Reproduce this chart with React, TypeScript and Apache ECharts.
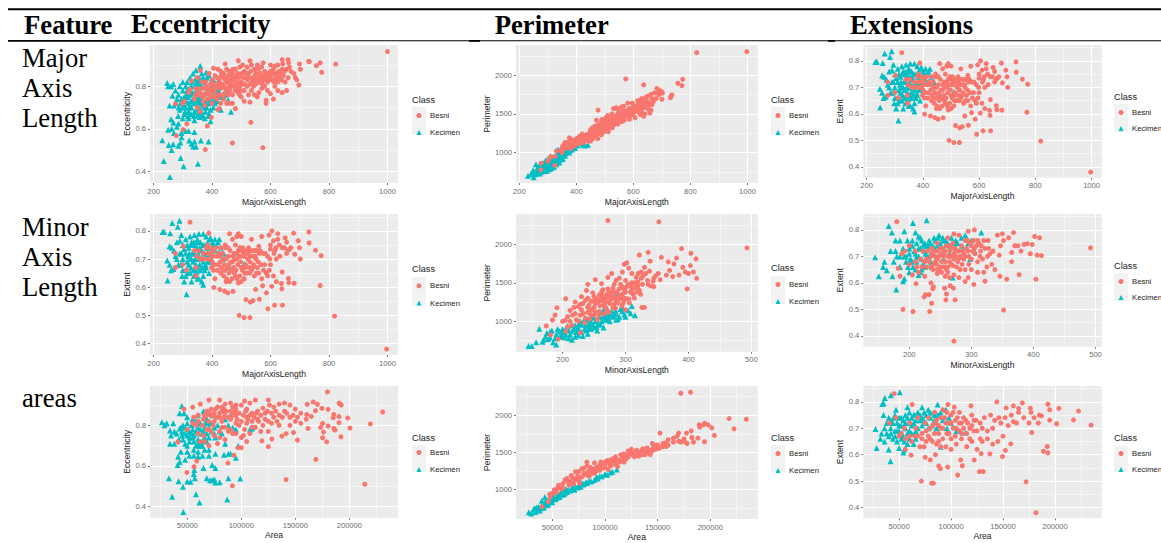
import React, { useEffect, useRef } from "react";
import * as echarts from "echarts";

// ---- tick values ----
const majorTicks = [200, 400, 600, 800, 1000];
const majorMinors = [300, 500, 700, 900];
const minorTicks = [200, 300, 400, 500];
const minorMinors = [150, 250, 350, 450];
const areaTicks = [50000, 100000, 150000, 200000];
const areaMinors = [25000, 75000, 125000, 175000, 225000];
const eccTicks = [0.4, 0.6, 0.8];
const eccMinors = [0.5, 0.7, 0.9];
const perimTicks = [1000, 1500, 2000];
const perimMinors = [750, 1250, 1750, 2250];
const extentTicks = [0.4, 0.5, 0.6, 0.7, 0.8];
const extentMinors = [0.45, 0.55, 0.65, 0.75, 0.85];
const classes = ["Besni", "Kecimen"];

// ---- MajorAxisLength / Eccentricity ----
const majorEccBesni = [[1000,.963],[823,.904],[775,.866],[770,.91],[757,.897],[733,.916],[730,.917],[697,.806],[702,.88],[699,.905],[574,.511],[533,.63],[470,.533],[377,.502],[398,.654],[384,.613],[314,.623],[301,.596],[278,.568],[275,.717],[640,.925],[642,.905],[660,.925],[662,.91],[665,.89],[655,.88],[640,.88],[670,.87],[680,.86],[685,.84],[690,.83],[660,.84],[650,.82],[655,.78],[640,.77],[625,.78],[610,.74],[585,.72],[585,.735],[590,.78],[600,.765],[615,.8],[625,.82],[630,.84],[620,.86],[610,.88],[600,.87],[595,.85],[580,.87],[570,.89],[565,.86],[560,.84],[575,.83],[590,.82],[605,.83],[580,.8],[570,.79],[560,.77],[550,.81],[545,.83],[550,.86],[545,.88],[535,.9],[530,.92],[520,.89],[510,.87],[515,.84],[505,.81],[520,.8],[535,.78],[545,.76],[530,.725],[510,.73],[500,.75],[490,.77],[490,.92],[495,.89],[480,.88],[470,.86],[475,.84],[485,.82],[495,.8],[480,.78],[470,.76],[480,.695],[460,.72],[470,.72],[445,.905],[450,.88],[440,.86],[455,.85],[465,.83],[450,.82],[440,.84],[430,.87],[420,.88],[405,.885],[410,.85],[425,.83],[435,.81],[455,.79],[445,.77],[430,.79],[415,.81],[400,.83],[390,.86],[395,.81],[380,.8],[365,.82],[350,.84],[330,.825],[360,.875],[325,.785],[345,.79],[360,.77],[375,.76],[390,.77],[410,.77],[420,.75],[440,.74],[450,.72],[430,.72],[425,.695],[420,.69],[400,.72],[385,.74],[370,.73],[350,.7],[360,.68],[375,.71],[340,.74],[320,.77],[305,.73],[300,.72],[500,.845],[525,.86],[540,.84],[530,.81],[465,.8],[505,.9],[555,.9],[575,.91],[600,.9],[615,.895],[625,.9],[470,.81],[480,.85],[490,.84],[500,.82],[460,.87],[510,.78],[525,.76],[555,.75],
[452,.84],[458,.81],[462,.78],[468,.85],[472,.88],[478,.83],[482,.8],[488,.86],[492,.81],[498,.78],[502,.86],[508,.84],[512,.81],[518,.86],[522,.83],[528,.84],[532,.87],[538,.82],[542,.8],[548,.85],[552,.83],[558,.88],[562,.82],[568,.84],[572,.81],[578,.85],[582,.83],[588,.86],[592,.84],[598,.83],[602,.85],[608,.86],[612,.82],[618,.84],[622,.85],[628,.87],[634,.86],[638,.83],[644,.85],[648,.87],[440,.8],[445,.83],[432,.85],[428,.81],[422,.8],[418,.84],[412,.79],[406,.81],[402,.78],[396,.79],[392,.76],[386,.79],[382,.77],[378,.82],[372,.79],[368,.75],[362,.79],[356,.76],[352,.77],[344,.76],[446,.79],[438,.76],[426,.76],[416,.74],[408,.75],[398,.75],[456,.76],[462,.82],[474,.8],[486,.79],[494,.76]];
const majorEccKecimen = [[256,.373],[352,.436],[303,.424],[235,.449],[293,.463],[262,.5],[230,.546],[252,.524],[267,.527],[285,.52],[292,.535],[322,.545],[330,.53],[336,.517],[345,.515],[340,.54],[362,.545],[388,.54],[296,.56],[270,.58],[295,.58],[262,.6],[280,.61],[250,.595],[310,.59],[320,.59],[340,.585],[285,.625],[268,.63],[260,.645],[300,.65],[320,.65],[340,.64],[358,.655],[375,.65],[395,.635],[305,.67],[290,.69],[255,.71],[270,.71],[280,.74],[265,.755],[250,.8],[260,.8],[275,.78],[285,.76],[290,.8],[268,.81],[247,.815],[300,.82],[310,.8],[325,.84],[335,.86],[360,.895],[345,.875],[365,.86],[380,.865],[355,.84],[370,.84],[390,.85],[405,.83],[315,.78],[325,.76],[335,.74],[345,.72],[355,.7],[365,.68],[375,.7],[395,.69],[410,.72],[305,.75],[300,.72],[310,.7],[320,.72],[330,.7],[340,.68],[350,.665],[300,.78],[295,.74],[340,.77],[350,.79],[360,.81],[375,.8],[385,.78],[400,.79],[415,.77],[430,.75],[430,.69],[445,.76],[455,.735],[410,.8],[420,.82],[395,.82],[370,.76],[385,.74],[360,.75],[345,.81],[330,.8],[315,.82],[405,.7],[450,.78],[380,.72],[320,.68],[390,.67],[360,.72],[465,.68],
[305,.71],[312,.73],[318,.75],[322,.7],[328,.73],[332,.77],[338,.72],[342,.75],[348,.74],[352,.73],[358,.76],[362,.74],[368,.71],[372,.73],[378,.77],[382,.7],[388,.72],[392,.75],[398,.73],[402,.76],[408,.74],[412,.75],[418,.73],[422,.78],[312,.76],[322,.79],[332,.82],[342,.83],[352,.82],[362,.83],[372,.82],[382,.84],[392,.79],[402,.81],[318,.66],[328,.67],[338,.66],[348,.69],[358,.67],[368,.66],[378,.68],[388,.66],[298,.7],[308,.68],[278,.72],[286,.7],[292,.72],[284,.66]];

// ---- MajorAxisLength / Perimeter ----
const majorPerimBesni = [[998,2306],[822,2293],[573,1953],[636,1875],[773,1948],[770,1866],[756,1897],[732,1730],[730,1710],[735,1745],[700,1690],[702,1770],[698,1790],[690,1810],[682,1830],[672,1770],[660,1750],[650,1730],[645,1720],[678,1770],[690,1750],[670,1660],[662,1550],[650,1600],[640,1630],[655,1640],[665,1620],[630,1700],[625,1680],[615,1670],[620,1620],[610,1600],[640,1500],[630,1520],[612,1560],[600,1600],[595,1540],[585,1570],[580,1640],[560,1530],[575,1500],[560,1470],[540,1580],[530,1570],[525,1500],[545,1500],[510,1480],[515,1420],[530,1450],[540,1420],[490,1430],[476,1550],[470,1420],[495,1370],[505,1400],[480,1350],[490,1300],[470,1310],[460,1280],[450,1300],[440,1200],[430,1180],[420,1240],[410,1210],[400,1180],[395,1090],[385,1130],[375,1190],[370,1130],[360,1130],[350,1060],[345,1030],[330,1020],[325,950],[324,836],[276,862],[275,776],[303,905],[310,950],[300,890],[350,1000],[365,1060],[380,1050],[405,1120],[415,1150],[425,1130],[440,1170],[450,1190],[465,1220],[475,1260],[485,1260],[500,1300],[510,1350],[520,1370],[535,1400],[550,1440],[565,1450],[580,1500],[590,1480],[600,1520],[615,1530],[625,1560],[560,1400],[515,1320],[445,1240],[455,1240],[435,1230],[425,1190],[395,1130],[412,1170],[430,1220],[470,1260],[482,1300],[500,1340],[520,1420],[550,1500],[570,1540],[600,1560],[620,1650],[680,1700],[665,1700],[450,1150],[475,1180],
[432,1160],[438,1215],[442,1150],[448,1270],[452,1220],[458,1180],[462,1250],[468,1290],[472,1230],[478,1300],[484,1330],[488,1230],[492,1350],[498,1270],[502,1320],[508,1300],[512,1390],[518,1340],[522,1440],[528,1410],[532,1360],[538,1470],[544,1390],[548,1460],[552,1530],[556,1480],[564,1510],[568,1420],[572,1470],[578,1540],[584,1470],[588,1520],[592,1560],[598,1490],[604,1570],[608,1540],[614,1610],[618,1580],[622,1530],[628,1600],[634,1640],[638,1580],[642,1670],[648,1650],[352,1090],[358,1050],[366,1110],[372,1080],[378,1110],[382,1170],[388,1080],[392,1160],[398,1110],[402,1150],[408,1190],[414,1120],[418,1200],[422,1160],[428,1150],[435,1190],
[512,1270],[496,1420],[526,1320],[476,1360],[558,1590],[566,1600],[546,1370],[606,1450],[596,1640],[586,1430],[624,1490],[636,1470],[652,1560],[650,1660],[658,1510],[486,1390],[464,1340],[456,1320],[544,1560],[504,1450]];
const majorPerimKecimen = [[230,700],[240,720],[250,680],[248,770],[260,730],[258,850],[270,760],[275,790],[285,800],[290,830],[300,850],[295,760],[310,800],[305,920],[320,900],[330,850],[340,870],[335,1000],[350,1040],[345,950],[360,960],[375,1000],[365,1100],[385,1040],[395,1060],[405,1190],[420,1100],[430,1090],[440,1100],[245,740],[265,770],[280,830],[290,870],[300,800],[315,860],[325,920],[340,980],[355,1000],[370,1040],[380,1100],[390,1150],[400,1120],[410,1160],[355,1060],[265,800],[280,770],[295,810],[315,830],[330,890],[345,910],[360,1020],[375,1060],[290,770],[305,830],[320,870],
[254,720],[262,790],[268,820],[272,730],[278,750],[283,860],[287,780],[292,900],[297,840],[302,780],[307,870],[312,900],[317,810],[322,950],[327,860],[332,960],[337,900],[342,1020],[347,990],[352,920],[357,1080],[362,990],[367,1020],[372,1120],[377,1030],[382,1140],[387,1070],[392,1100],[397,1170],[402,1090],[407,1130],[412,1200],[417,1140],[425,1130],[360,1100],[338,930],[322,820],[308,790],[300,920],[285,850],[272,840],[335,1040]];

// ---- MajorAxisLength / Extent ----
const majorExtentBesni = [[997,.38],[819,.497],[770,.606],[773,.712],[754,.731],[731,.796],[732,.757],[699,.74],[702,.7],[695,.765],[679,.792],[683,.717],[681,.614],[663,.616],[661,.631],[639,.594],[640,.654],[637,.613],[641,.536],[614,.536],[591,.523],[586,.58],[604,.603],[573,.605],[549,.592],[562,.557],[540,.552],[531,.547],[516,.556],[530,.492],[510,.492],[493,.5],[472,.585],[454,.58],[443,.586],[427,.592],[406,.599],[325,.831],[389,.792],[275,.67],[275,.72],[300,.68],[302,.745],[312,.66],[345,.67],[345,.64],[340,.73],[360,.7],[370,.72],[380,.74],[385,.75],[395,.72],[400,.69],[405,.66],[410,.63],[420,.68],[425,.71],[430,.74],[440,.7],[445,.66],[450,.63],[460,.62],[465,.66],[470,.69],[475,.72],[480,.75],[485,.78],[490,.79],[460,.79],[470,.77],[500,.78],[505,.74],[510,.71],[515,.68],[500,.67],[495,.64],[510,.63],[490,.615],[480,.64],[525,.72],[530,.69],[535,.66],[520,.65],[545,.73],[550,.7],[555,.67],[545,.64],[535,.77],[560,.745],[570,.78],[575,.72],[580,.68],[585,.65],[590,.71],[595,.785],[600,.735],[605,.8],[610,.765],[615,.73],[620,.7],[625,.79],[630,.75],[640,.74],[650,.775],[655,.72],[665,.735],[670,.74],[610,.64],[620,.62],[600,.68],[590,.64],[570,.63],[560,.65],[430,.65],[440,.64],[415,.71],[405,.73],[455,.74],[445,.75],[515,.73],[525,.74],[485,.7],[490,.73],[500,.71],[540,.71],[565,.73],[625,.77],[600,.75],[655,.76],[660,.73],
[412,.74],[418,.66],[422,.72],[428,.69],[432,.67],[436,.72],[442,.68],[446,.74],[448,.7],[452,.67],[456,.71],[458,.65],[462,.73],[464,.69],[468,.63],[472,.71],[474,.67],[478,.7],[482,.66],[484,.72],[488,.68],[492,.71],[496,.74],[498,.69],[502,.73],[504,.66],[508,.72],[512,.67],[518,.72],[522,.7],[526,.67],[528,.73],[532,.71],[538,.73],[542,.68],[548,.71],[552,.73],[558,.69],[562,.72],[390,.7],[394,.74],[398,.67],[402,.71],[408,.68],[384,.72],[376,.7],[366,.7],[354,.73],[348,.71],[438,.66],[448,.62],[458,.68],[476,.65],[486,.63],[500,.62],[512,.65],[530,.65],[540,.67],[552,.65],[568,.68],[576,.66],[582,.72],[596,.66],[598,.7],[618,.74],[632,.71],[648,.74],[612,.72]];
const majorExtentKecimen = [[289,.836],[264,.828],[283,.815],[257,.792],[231,.796],[248,.624],[313,.575],[370,.609],[510,.683],[236,.797],[247,.695],[255,.68],[260,.66],[268,.665],[255,.745],[262,.74],[270,.73],[280,.76],[295,.785],[290,.765],[300,.75],[310,.77],[325,.78],[340,.785],[355,.79],[370,.79],[380,.78],[395,.775],[410,.77],[420,.76],[280,.7],[290,.72],[300,.7],[310,.72],[320,.74],[330,.76],[340,.75],[350,.77],[360,.76],[375,.75],[390,.74],[405,.75],[300,.66],[310,.64],[305,.62],[320,.68],[330,.7],[340,.72],[350,.74],[365,.73],[380,.71],[395,.69],[410,.73],[420,.72],[335,.66],[345,.64],[360,.66],[370,.64],[365,.62],[380,.67],[390,.65],[325,.65],[315,.69],[355,.7],[370,.69],[385,.76],[400,.72],[430,.74],[440,.72],[285,.68],[275,.71],[345,.68],[330,.62],[350,.63],[460,.67],
[315,.75],[322,.72],[328,.75],[332,.72],[338,.76],[342,.7],[348,.76],[352,.72],[358,.74],[362,.7],[368,.75],[372,.72],[378,.68],[382,.74],[388,.71],[392,.77],[398,.7],[402,.76],[415,.75],[318,.71],[325,.7],[335,.69],[342,.66],[352,.67],[358,.68],[368,.67],[375,.66],[385,.69],[295,.72],[305,.735],[312,.66],[318,.65],[328,.67],[338,.64],[348,.655],[355,.63],[425,.77],[435,.7],[298,.64],[292,.68]];

// ---- MinorAxisLength / Perimeter ----
const minorPerimBesni = [[493,1952],[353,2290],[272,2307],[389,1944],[404,1883],[412,1810],[398,1420],[413,1558],[403,1723],[391,1700],[336,1895],[322,1860],[339,1780],[357,1830],[381,1820],[368,1770],[377,1745],[395,1640],[408,1640],[400,1620],[385,1600],[375,1580],[365,1600],[370,1660],[352,1620],[345,1560],[338,1650],[330,1700],[325,1640],[320,1620],[317,1570],[310,1620],[302,1760],[298,1740],[305,1690],[295,1640],[290,1560],[285,1530],[278,1620],[272,1570],[262,1490],[252,1540],[240,1480],[238,1400],[230,1320],[205,1294],[191,1177],[188,1082],[184,1017],[174,940],[181,827],[193,770],[228,853],[200,1000],[208,1060],[212,1140],[220,1250],[225,1190],[233,1100],[240,1180],[245,1260],[250,1320],[256,1240],[262,1380],[268,1300],[275,1230],[280,1180],[285,1270],[290,1340],[296,1440],[300,1530],[308,1460],[315,1500],[322,1400],[327,1480],[330,1180],[305,1290],[312,1350],[298,1270],[290,1420],[282,1480],[272,1420],[265,1210],[258,1130],[250,1080],[243,1030],[235,980],[225,1000],[215,950],[205,870],[240,1120],[250,1180],[260,1270],[270,1350],[280,1380],[300,1380],[310,1410],[320,1510],[335,1530],[345,1450],[355,1540],[250,1260],[230,1150],[220,1100],[240,1300],[263,1330],[280,1300],[295,1350],[325,1560],[208,930],[300,1150],[255,1020],[270,1150],
[232,1230],[236,1270],[242,1210],[246,1150],[248,1370],[252,1230],[254,1290],[258,1340],[260,1200],[262,1300],[264,1410],[266,1260],[268,1180],[270,1250],[272,1320],[274,1380],[276,1280],[278,1340],[280,1430],[282,1220],[284,1310],[286,1380],[288,1240],[290,1290],[292,1480],[294,1300],[296,1230],[298,1410],[300,1300],[302,1450],[304,1480],[306,1240],[308,1380],[310,1500],[312,1430],[314,1300],[316,1440],[318,1380],[320,1460],[324,1350],[328,1590],[332,1620],[336,1480],[340,1460],[344,1520],[348,1590],[326,1180],[258,1080],[244,1090],[236,1040],[228,1080],[222,1020],[216,1080],[212,1000],[204,1010],[252,1120],[266,1100],[274,1120],[284,1170],[294,1200],[228,1220],[218,1180]];
const minorPerimKecimen = [[146,680],[151,680],[158,727],[163,905],[168,736],[173,800],[177,770],[180,860],[185,730],[190,700],[195,800],[200,900],[205,830],[210,780],[215,870],[220,800],[225,900],[230,860],[235,900],[240,950],[245,1000],[250,920],[255,1020],[260,960],[265,1020],[270,1080],[275,1000],[280,1060],[285,1100],[290,1060],[295,1130],[300,1060],[308,1104],[315,1078],[285,1350],[295,1180],[310,1200],[270,1180],[260,1120],[250,1050],[240,1020],[228,1000],[220,950],[210,880],[200,800],[190,830],[183,880],[175,850],[170,760],[265,1150],[275,1100],[285,1020],[255,880],[240,840],[225,820],[215,760],[205,900],[195,870],[180,790],[245,900],[265,920],[230,960],
[202,860],[208,940],[212,830],[218,900],[222,860],[226,960],[232,810],[236,950],[242,900],[246,1050],[248,960],[252,1000],[256,960],[258,1060],[262,1000],[268,1040],[272,1020],[278,1130],[282,1090],[288,1030],[292,1160],[298,1090],[304,1140],[188,780],[192,900],[198,820],[204,790],[216,950],[224,930],[234,1020],[238,880],[244,960],[254,930],[264,1060],[274,1070],[284,1140]];

// ---- MinorAxisLength / Extent ----
const minorExtentBesni = [[492,.732],[352,.497],[404,.614],[357,.614],[377,.631],[346,.625],[322,.606],[304,.594],[272,.38],[233,.492],[206,.492],[190,.5],[180,.831],[274,.536],[259,.536],[260,.558],[236,.523],[224,.547],[226,.555],[232,.556],[266,.589],[257,.58],[271,.58],[211,.597],[239,.585],[238,.578],[368,.79],[327,.76],[305,.8],[295,.795],[402,.775],[410,.77],[413,.703],[406,.705],[398,.745],[390,.748],[385,.745],[380,.72],[365,.715],[370,.74],[360,.77],[350,.785],[342,.78],[345,.705],[335,.72],[328,.73],[320,.76],[312,.75],[300,.74],[290,.76],[280,.78],[272,.785],[262,.77],[318,.69],[310,.68],[325,.66],[333,.67],[338,.65],[320,.64],[310,.64],[300,.65],[295,.62],[290,.605],[280,.62],[272,.63],[265,.62],[258,.625],[245,.635],[235,.6],[225,.625],[215,.64],[205,.63],[200,.67],[210,.68],[220,.66],[228,.69],[240,.67],[250,.66],[260,.65],[270,.665],[275,.7],[265,.72],[255,.7],[245,.69],[235,.66],[230,.72],[240,.72],[250,.73],[260,.74],[270,.75],[280,.72],[290,.7],[300,.69],[285,.67],[295,.72],[305,.73],[315,.72],[290,.65],[245,.75],[235,.7],[225,.68],[248,.7],[258,.68],[268,.7],[278,.68],[265,.68],[255,.66],[245,.65],[210,.72],[200,.74],[188,.71],[182,.655],[185,.625],[193,.72],[365,.68],[347,.74],[352,.76],[375,.74],[395,.71],
[232,.68],[236,.73],[238,.65],[242,.7],[244,.67],[246,.72],[248,.65],[252,.68],[254,.73],[256,.71],[258,.72],[262,.66],[264,.7],[266,.74],[268,.67],[272,.71],[274,.73],[276,.66],[278,.72],[282,.7],[284,.74],[286,.72],[288,.69],[292,.73],[294,.76],[296,.7],[298,.75],[302,.72],[304,.76],[306,.71],[308,.74],[310,.76],[314,.7],[316,.74],[322,.73],[326,.7],[330,.71],[262,.7],[252,.71],[242,.68],[252,.64],[262,.64],[272,.69],[282,.65],[228,.66],[218,.69],[222,.72],[212,.66],[268,.73],[280,.69],[238,.71],[258,.66],[296,.67],[288,.71]];
const minorExtentKecimen = [[228,.836],[206,.826],[167,.815],[192,.795],[172,.79],[145,.697],[151,.625],[179,.575],[160,.68],[158,.66],[164,.648],[173,.625],[190,.606],[192,.616],[185,.76],[178,.76],[170,.72],[175,.68],[185,.7],[190,.73],[200,.71],[205,.74],[210,.79],[215,.775],[220,.76],[225,.75],[230,.74],[240,.77],[248,.78],[255,.76],[265,.74],[275,.76],[290,.78],[300,.76],[316,.79],[205,.68],[215,.7],[225,.72],[235,.71],[210,.65],[220,.65],[200,.64],[195,.68],[185,.66],[180,.7],[215,.63],[225,.66],[235,.68],[245,.74],[255,.72],[265,.71],[275,.73],[285,.74],[295,.75],[305,.72],[245,.7],[255,.69],[270,.62],[298,.69],[197,.76],[215,.73],[205,.76],[195,.7],[230,.7],[220,.69],[210,.71],[240,.73],[260,.75],[232,.76],[178,.72],
[202,.69],[208,.72],[212,.7],[218,.73],[222,.74],[226,.71],[228,.74],[234,.75],[238,.74],[242,.76],[246,.77],[250,.75],[254,.77],[258,.76],[262,.75],[268,.77],[272,.75],[278,.75],[284,.77],[292,.77],[218,.77],[212,.75],[200,.73],[222,.67],[212,.68],[198,.66],[206,.66],[192,.7],[200,.68],[218,.64],[228,.7],[236,.66]];

// ---- Area / Eccentricity ----
const areaEccBesni = [[230800,.866],[219400,.807],[214300,.51],[179700,.965],[169000,.632],[141400,.533],[91800,.502],[87600,.614],[93000,.653],[49700,.568],[56300,.596],[58700,.624],[41300,.718],[200600,.787],[198500,.836],[191600,.905],[190500,.91],[192500,.9],[192200,.744],[185600,.854],[185000,.838],[185600,.785],[186800,.777],[190400,.843],[190400,.813],[179000,.719],[175200,.739],[176100,.767],[173400,.79],[175200,.81],[180300,.797],[180300,.879],[174600,.884],[170400,.904],[166500,.915],[168600,.872],[164700,.844],[161700,.785],[160500,.854],[161000,.904],[151900,.728],[148300,.765],[137500,.747],[141400,.759],[128300,.733],[125000,.695],[119000,.724],[155000,.86],[150000,.88],[145000,.9],[140000,.91],[135000,.905],[130000,.89],[125000,.925],[126000,.9],[120000,.885],[113000,.925],[108000,.91],[103000,.92],[100000,.9],[95000,.88],[90000,.91],[85000,.905],[80000,.925],[70000,.925],[62000,.905],[55000,.89],[145000,.84],[140000,.87],[135000,.85],[130000,.84],[125000,.82],[120000,.8],[115000,.83],[110000,.86],[105000,.84],[100000,.82],[95000,.85],[90000,.87],[85000,.86],[80000,.84],[75000,.86],[70000,.82],[65000,.83],[60000,.85],[55000,.81],[50000,.78],[60000,.76],[70000,.78],[75000,.75],[80000,.77],[85000,.79],[90000,.78],[95000,.76],[100000,.74],[105000,.72],[100000,.69],[97000,.69],[70000,.7],[78000,.71],[85000,.73],[110000,.79],[118000,.77],[125000,.77],[135000,.8],[150000,.82],[155000,.81],[160000,.83],[145000,.8],[90000,.83],[95000,.81],[105000,.88],[115000,.87],[122000,.86],[132000,.87],[142000,.86],[65000,.75],[62000,.72],[72000,.88],[78000,.89],[82000,.87],[68000,.85],[75000,.82],[82000,.82],[58000,.8],[47000,.88],[105000,.81],[110000,.82],[95000,.9],
[68000,.87],[72000,.85],[76000,.88],[78000,.84],[80000,.86],[82000,.89],[84000,.84],[86000,.87],[88000,.84],[92000,.85],[94000,.87],[96000,.83],[98000,.86],[102000,.85],[104000,.87],[106000,.83],[108000,.85],[112000,.84],[114000,.86],[116000,.82],[118000,.85],[122000,.83],[124000,.87],[128000,.86],[128000,.81],[133000,.82],[138000,.84],[148000,.85],[152000,.84],[98000,.8],[103000,.78],[108000,.76],[113000,.79],[88000,.77],[92000,.76],[82000,.79],[74000,.8],[68000,.78],[64000,.8],[60000,.82],[56000,.84],[72000,.77],[66000,.72],[80000,.74],[102000,.75],[76000,.84],[84000,.88],[92000,.89],[66000,.85],[70000,.86]];
const areaEccKecimen = [[46300,.373],[61300,.42],[58000,.46],[36000,.448],[87000,.435],[46000,.498],[33000,.54],[42000,.525],[50000,.523],[53000,.522],[57000,.54],[68000,.54],[71000,.53],[73000,.53],[76000,.518],[75000,.535],[80000,.52],[88000,.54],[99000,.538],[56000,.56],[56500,.58],[65000,.59],[73000,.605],[76000,.59],[41000,.605],[48000,.63],[43000,.62],[41500,.645],[52000,.65],[56000,.65],[60000,.645],[64000,.65],[70000,.65],[76000,.66],[84000,.655],[88000,.66],[90000,.66],[95000,.64],[44000,.67],[50000,.67],[60000,.67],[70000,.68],[85000,.71],[34000,.71],[38000,.71],[42000,.73],[48000,.71],[26500,.815],[29000,.8],[31000,.81],[34000,.775],[35000,.75],[37000,.81],[38000,.77],[40000,.76],[43000,.785],[46000,.8],[50000,.81],[43000,.86],[45000,.895],[47000,.86],[50000,.84],[55000,.83],[60000,.85],[65000,.87],[68000,.83],[72000,.81],[78000,.8],[85000,.83],[88000,.8],[92000,.79],[95000,.78],[90000,.85],[45000,.75],[50000,.75],[55000,.74],[60000,.73],[65000,.72],[70000,.74],[75000,.76],[80000,.77],[55000,.78],[60000,.79],[65000,.77],[70000,.79],[75000,.79],[50000,.78],[45000,.77],[58000,.7],[62000,.7],[52000,.72],[110000,.785],[108000,.78],[97000,.7],[60000,.76],[67000,.81],[73000,.85],
[48000,.76],[52000,.77],[54000,.76],[56000,.75],[58000,.77],[62000,.78],[64000,.76],[66000,.74],[68000,.76],[72000,.77],[54000,.8],[58000,.82],[62000,.81],[66000,.79],[70000,.81],[48000,.79],[52000,.74],[46000,.73],[56000,.72],[60000,.71],[64000,.7],[68000,.72],[50000,.7],[44000,.79],[76000,.74],[82000,.76],[56000,.68],[66000,.68]];

// ---- Area / Perimeter ----
const areaPerimBesni = [[234200,1946],[217800,1955],[222500,1817],[172000,2295],[181200,2308],[203900,1728],[201400,1830],[194800,1893],[193500,1870],[189400,1870],[194500,1643],[188200,1692],[181900,1790],[182500,1700],[177400,1760],[176500,1634],[169900,1760],[168500,1720],[152200,1760],[190000,1840],[178000,1620],[172000,1640],[165000,1690],[160000,1670],[155000,1620],[150000,1600],[148000,1540],[145000,1620],[140000,1560],[135000,1530],[130000,1480],[125000,1545],[122000,1520],[118000,1430],[115000,1470],[110000,1440],[105000,1400],[100000,1370],[95000,1330],[90000,1280],[85000,1260],[80000,1220],[75000,1240],[70000,1150],[65000,1100],[60000,1080],[55000,1020],[50000,950],[47500,940],[46000,840],[40200,770],[82800,1370],[90000,1360],[100000,1300],[105000,1320],[110000,1340],[115000,1390],[120000,1450],[125000,1480],[130000,1530],[135000,1470],[140000,1500],[145000,1520],[150000,1550],[155000,1580],[160000,1600],[165000,1640],[170000,1650],[175000,1680],[95000,1260],[85000,1180],[78000,1170],[72000,1240],[68000,1190],[62000,1130],[58000,1010],[52000,1000],[80000,1290],[88000,1220],[92000,1300],[98000,1340],[103000,1270],[108000,1380],[112000,1310],[118000,1370],[128000,1500],[138000,1510],[158000,1630],[143000,1470],[75000,1130],[83000,1320],[122000,1440],[132000,1450],[146000,1560],[184000,1640],[198000,1870],
[78000,1280],[82000,1200],[84000,1240],[86000,1300],[88000,1270],[90000,1220],[92000,1250],[94000,1290],[96000,1370],[98000,1290],[100000,1330],[102000,1390],[104000,1360],[106000,1330],[108000,1420],[110000,1390],[112000,1400],[114000,1370],[116000,1430],[118000,1480],[120000,1410],[122000,1470],[124000,1500],[126000,1470],[128000,1440],[130000,1510],[132000,1500],[134000,1490],[136000,1550],[138000,1470],[142000,1530],[148000,1590],[152000,1560],[158000,1580],[64000,1150],[66000,1060],[68000,1120],[70000,1080],[72000,1130],[74000,1180],[76000,1090],[60000,1020],[56000,1060],[54000,960],[48000,900]];
const areaPerimKecimen = [[27600,697],[30000,680],[32000,730],[35000,760],[38000,720],[40000,780],[42000,800],[45000,860],[43000,900],[47000,830],[50000,880],[52000,960],[55000,920],[58000,960],[60000,1000],[65000,1000],[70000,1020],[75000,1060],[80000,1080],[85000,1120],[90000,1130],[95000,1180],[100000,1210],[105000,1230],[111200,1270],[36000,740],[48000,850],[62000,960],[72000,1040],[82000,1100],[92000,1170],[34000,700],[44000,820],[54000,890],[78000,1090],
[33000,750],[37000,770],[39000,750],[41000,760],[43000,830],[46000,800],[49000,860],[51000,900],[53000,870],[56000,940],[59000,930],[57000,900],[61000,940],[63000,1010],[64000,970],[67000,990],[69000,1030],[71000,1000],[74000,1030],[77000,1040],[79000,1070],[83000,1090],[87000,1110],[93000,1150],[97000,1180],[102000,1200],[107000,1240],[40000,850],[42000,760],[45000,790],[50000,830]];

// ---- Area / Extent ----
const areaExtentBesni = [[181800,.38],[172200,.497],[234800,.712],[222700,.765],[217900,.732],[203800,.775],[201600,.717],[194900,.731],[194900,.77],[193200,.791],[192600,.631],[193200,.607],[189000,.613],[187000,.747],[184000,.72],[177600,.684],[176300,.776],[168600,.796],[165100,.775],[160000,.785],[153000,.777],[144000,.8],[119100,.785],[97000,.79],[62500,.79],[45200,.831],[61500,.598],[71400,.5],[81300,.492],[83000,.492],[96700,.553],[89700,.547],[88100,.557],[106300,.523],[110800,.558],[109300,.58],[122300,.58],[127400,.536],[131000,.536],[129000,.604],[137300,.603],[149500,.593],[152300,.616],[157500,.641],[40500,.72],[47000,.74],[50000,.67],[55000,.7],[60000,.72],[65000,.67],[70000,.63],[75000,.59],[80000,.58],[85000,.6],[90000,.63],[95000,.63],[100000,.62],[105000,.64],[110000,.66],[115000,.63],[120000,.65],[125000,.62],[130000,.65],[135000,.66],[140000,.64],[145000,.65],[150000,.67],[155000,.71],[160000,.725],[165000,.76],[170000,.74],[175000,.72],[180000,.74],[185000,.75],[177000,.76],[163000,.72],[152000,.74],[148000,.72],[142000,.73],[138000,.75],[132000,.74],[128000,.72],[122000,.73],[118000,.7],[112000,.74],[108000,.76],[103000,.78],[100000,.75],[95000,.72],[90000,.74],[85000,.72],[80000,.7],[75000,.72],[78000,.67],[72000,.68],[88000,.68],[92000,.7],[98000,.68],[105000,.7],[110000,.72],[115000,.68],[125000,.69],[130000,.7],[135000,.69],[140000,.7],[82000,.65],[86000,.64],[68000,.74],[62000,.65],[56000,.62],[100000,.66],[104000,.73],[120000,.75],[128000,.66],[146000,.74],[158000,.75],[108000,.69],[76000,.65],[84000,.76],[92000,.77],
[76000,.69],[78000,.74],[80000,.66],[82000,.71],[84000,.68],[86000,.73],[88000,.71],[90000,.7],[92000,.66],[94000,.74],[96000,.68],[98000,.72],[100000,.72],[102000,.7],[104000,.67],[106000,.74],[108000,.72],[110000,.68],[112000,.7],[114000,.73],[116000,.72],[118000,.66],[120000,.71],[122000,.69],[124000,.73],[102000,.76],[96000,.76],[88000,.65],[72000,.66],[68000,.67],[74000,.63],[66000,.7],[60000,.67],[56000,.66],[52000,.68]];
const areaExtentKecimen = [[50600,.836],[42000,.825],[36200,.815],[33700,.792],[35000,.795],[27300,.697],[28300,.625],[41700,.575],[54200,.608],[55000,.62],[50000,.625],[40000,.62],[32000,.66],[33000,.68],[36000,.65],[35000,.75],[38000,.72],[42000,.7],[45000,.74],[47000,.77],[52000,.74],[58000,.78],[60000,.76],[65000,.75],[72000,.78],[78000,.77],[85000,.76],[87000,.79],[95000,.77],[40000,.67],[44000,.66],[48000,.65],[52000,.68],[56000,.7],[60000,.69],[64000,.72],[68000,.7],[72000,.74],[76000,.72],[80000,.74],[84000,.73],[88000,.75],[92000,.73],[96000,.7],[100000,.72],[50000,.71],[46000,.69],[42000,.73],[56000,.75],[62000,.74],[70000,.73],[78000,.7],[86000,.7],[90000,.63],[114000,.684],[105000,.69],[55000,.65],[58000,.64],[48000,.72],[66000,.69],[74000,.76],[82000,.71],[60000,.66],[52000,.66],[38000,.68],
[44000,.72],[46000,.75],[50000,.74],[52000,.71],[54000,.73],[56000,.72],[58000,.74],[60000,.72],[62000,.71],[64000,.75],[66000,.73],[68000,.76],[70000,.75],[72000,.71],[74000,.73],[76000,.75],[80000,.76],[84000,.75],[90000,.76],[46000,.67],[50000,.69],[54000,.67],[58000,.68],[62000,.68],[66000,.66],[42000,.68],[48000,.69],[64000,.64],[36000,.7],[40000,.74],[98000,.74]];

// ---- layout ----
const FONT = "Liberation Sans";
const SERIF = "Liberation Serif";
const RED = "#F8766D";
const TEAL = "#00BFC4";
const axes: any = {
  major: { name: "MajorAxisLength", min: 188, max: 1036, ticks: majorTicks, minors: majorMinors },
  minor: { name: "MinorAxisLength", min: 126, max: 510, ticks: minorTicks, minors: minorMinors },
  area: { name: "Area", min: 15500, max: 245000, ticks: areaTicks, minors: areaMinors },
  ecc: { name: "Eccentricity", min: 0.345, max: 0.994, ticks: eccTicks, minors: eccMinors },
  perim: { name: "Perimeter", min: 606, max: 2392, ticks: perimTicks, minors: perimMinors },
  extent: { name: "Extent", min: 0.359, max: 0.86, ticks: extentTicks, minors: extentMinors },
};
const panels: any[] = [
  { box: [150, 45, 248, 138], x: "major", y: "ecc", besni: majorEccBesni, kecimen: majorEccKecimen, yGap: 14, key: [412, 100, 107, 135, 114, 128] },
  { box: [516, 45, 241.7, 138], x: "major", y: "perim", besni: majorPerimBesni, kecimen: majorPerimKecimen, yGap: 21, key: [771, 100, 107, 135, 114, 128] },
  { box: [863.3, 45, 238.4, 132.7], x: "major", y: "extent", besni: majorExtentBesni, kecimen: majorExtentKecimen, yGap: 14, key: [1114, 97, 104, 132, 111, 124] },
  { box: [150, 214, 248, 141], x: "major", y: "extent", besni: majorExtentBesni, kecimen: majorExtentKecimen, yGap: 14, key: [412, 269, 277, 306, 284.3, 298.5] },
  { box: [516, 214, 241.7, 137.7], x: "minor", y: "perim", besni: minorPerimBesni, kecimen: minorPerimKecimen, yGap: 21, key: [771, 268, 276, 304, 283, 297] },
  { box: [863.3, 214, 238.4, 132.7], x: "minor", y: "extent", besni: minorExtentBesni, kecimen: minorExtentKecimen, yGap: 14, key: [1114, 266, 273, 301, 280, 293] },
  { box: [150, 386, 248, 131.7], x: "area", y: "ecc", besni: areaEccBesni, kecimen: areaEccKecimen, yGap: 14, key: [412, 437.7, 445, 472, 451, 465] },
  { box: [516, 386, 241.7, 133], x: "area", y: "perim", besni: areaPerimBesni, kecimen: areaPerimKecimen, yGap: 21, key: [771, 437.7, 445, 472, 452, 466] },
  { box: [863.3, 386, 238.4, 132.3], x: "area", y: "extent", besni: areaExtentBesni, kecimen: areaExtentKecimen, yGap: 14, key: [1114, 437.7, 446, 472, 452, 465] },
];

const tableTexts = [
  { text: "Table 7: SVM Plots", x: 27, y: 1.5, size: 29.5, bold: true },
  { text: "Feature", x: 24, y: 35, size: 26.7, bold: true },
  { text: "Eccentricity", x: 131, y: 35, size: 27, bold: true },
  { text: "Perimeter", x: 494.7, y: 35, size: 26.7, bold: true },
  { text: "Extensions", x: 850, y: 35, size: 26.7, bold: true },
  { text: "Major", x: 22, y: 68, size: 26.7 },
  { text: "Axis", x: 22, y: 98, size: 26.7 },
  { text: "Length", x: 22, y: 128.7, size: 26.7 },
  { text: "Minor", x: 22, y: 237, size: 26.7 },
  { text: "Axis", x: 22, y: 267, size: 26.7 },
  { text: "Length", x: 22, y: 297.7, size: 26.7 },
  { text: "areas", x: 22, y: 408, size: 26.7 },
];
const tableRules = [
  [8, 8.2, 1153, 2],
  [8, 40, 112, 1.8],
  [120, 40.3, 1041, 1],
  [469, 40, 11, 1.8],
  [828, 40, 7, 1.8],
];

function buildOption() {
  const grid: any[] = [], xAxis: any[] = [], yAxis: any[] = [], series: any[] = [], legend: any[] = [], graphic: any[] = [];
  tableRules.forEach(([x, y, w, h]) => graphic.push({ type: "rect", shape: { x, y, width: w, height: h }, style: { fill: "#000" }, silent: true }));
  tableTexts.forEach((t) =>
    graphic.push({
      type: "text", x: t.x, y: t.y - t.size * 0.89, silent: true,
      style: { text: t.text, fill: "#000", fontFamily: SERIF, fontSize: t.size, fontWeight: t.bold ? "bold" : "normal", verticalAlign: "top", align: "left" },
    })
  );
  panels.forEach((p, i) => {
    const [left, top, width, height] = p.box;
    const X = axes[p.x], Y = axes[p.y];
    grid.push({ left, top, width, height, show: true, backgroundColor: "#EBEBEB", borderWidth: 0, containLabel: false });
    const axisBase = (a: any, gap: number, margin: number) => ({
      type: "value", gridIndex: i, min: a.min, max: a.max, name: a.name, nameLocation: "middle", nameGap: gap,
      nameTextStyle: { color: "#222", fontSize: 8.6, fontFamily: FONT },
      axisLine: { show: false },
      axisTick: { show: true, length: 2, lineStyle: { color: "#333", width: 0.7 }, customValues: a.ticks },
      axisLabel: { show: true, color: "#6b6b6b", fontSize: 7.6, fontFamily: FONT, margin, customValues: a.ticks, hideOverlap: false, formatter: (v: number) => String(v) },
      splitLine: { show: false },
      minorSplitLine: { show: false },
    });
    xAxis.push(axisBase(X, p.box[1] > 380 ? 13 : 14, 4));
    yAxis.push(axisBase(Y, p.yGap, 4));
    const lines = [
      ...X.ticks.map((v: number) => ({ xAxis: v, lineStyle: { color: "#fff", width: 1, type: "solid" } })),
      ...X.minors.map((v: number) => ({ xAxis: v, lineStyle: { color: "#fff", width: 0.5, type: "solid" } })),
      ...Y.ticks.map((v: number) => ({ yAxis: v, lineStyle: { color: "#fff", width: 1, type: "solid" } })),
      ...Y.minors.map((v: number) => ({ yAxis: v, lineStyle: { color: "#fff", width: 0.5, type: "solid" } })),
    ];
    series.push({
      type: "scatter", name: "grid" + i, xAxisIndex: i, yAxisIndex: i, data: [], z: 1, silent: true,
      markLine: { silent: true, symbol: "none", label: { show: false }, animation: false, data: lines, z: 1 },
    });
    series.push({ type: "scatter", name: "Kecimen", xAxisIndex: i, yAxisIndex: i, data: p.kecimen, symbol: "triangle", symbolSize: 6, itemStyle: { color: TEAL, opacity: 1 }, z: 3 });
    series.push({ type: "scatter", name: "Besni", xAxisIndex: i, yAxisIndex: i, data: p.besni, symbol: "circle", symbolSize: 5, itemStyle: { color: RED, opacity: 1 }, z: 3 });

    const [kx, titleY, boxTop, boxBottom, y1, y2] = p.key;
    graphic.push({ type: "rect", shape: { x: kx, y: boxTop, width: 14, height: boxBottom - boxTop }, style: { fill: "#F2F2F2" }, silent: true });
    graphic.push({ type: "text", x: kx, y: titleY, silent: true, style: { text: "Class", fill: "#222", fontFamily: FONT, fontSize: 9.2, verticalAlign: "middle", align: "left" } });
    legend.push({
      show: true, orient: "vertical", left: kx + 4.5, top: y1 - 2.5, padding: 0, itemWidth: 5, itemHeight: 5, itemGap: y2 - y1 - 5, selectedMode: false,
      data: [{ name: classes[0], icon: "circle" }, { name: classes[1], icon: "triangle" }],
      textStyle: { color: "#222", fontSize: 7.7, fontFamily: FONT, lineHeight: 5, padding: [0, 0, 0, 3.5] },
    });
  });
  return { animation: false, backgroundColor: "#fff", grid, xAxis, yAxis, series, legend, graphic, tooltip: { show: false } };
}

export default function App() {
  const ref = useRef<HTMLDivElement>(null);
  useEffect(() => {
    const chart = echarts.init(ref.current!, undefined, { renderer: "svg" });
    chart.setOption(buildOption() as any);
    return () => chart.dispose();
  }, []);
  return <div ref={ref} style={{ position: "absolute", left: 0, top: 0, width: 1161, height: 543 }} />;
}
